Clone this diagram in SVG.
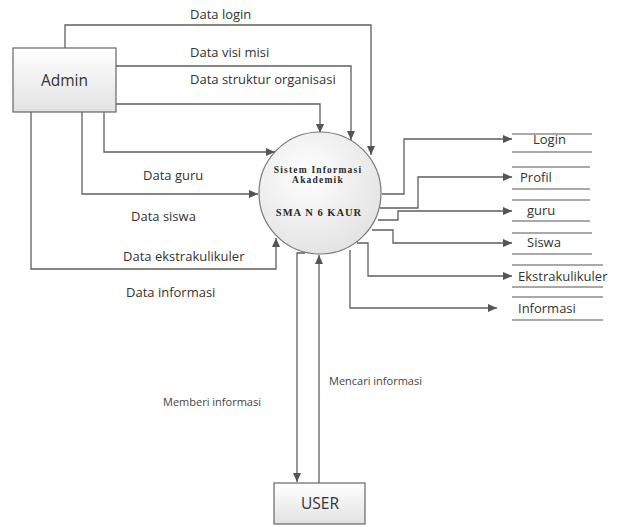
<svg xmlns="http://www.w3.org/2000/svg" width="619" height="527" viewBox="0 0 619 527">
<style>
.ln{fill:none;stroke:#5f5f5f;stroke-width:1.3}
.st{stroke:#555;stroke-width:1.2}
.lb{font-family:"Open Sans","Noto Sans",sans-serif;font-size:13px;fill:#333}
.sm{font-family:"Open Sans","Noto Sans",sans-serif;font-size:11px;fill:#444}
.ent{font-family:"Open Sans","Noto Sans",sans-serif;font-size:15.5px;fill:#333}
.pt{font-family:"Liberation Serif","DejaVu Serif",serif;font-weight:bold;fill:#2a2a2a}
</style>
<defs>
<marker id="ar" markerWidth="10" markerHeight="8" refX="9" refY="4" orient="auto" markerUnits="userSpaceOnUse">
<path d="M0,0 L9,4 L0,8 Z" fill="#555"/>
</marker>
<linearGradient id="bx" x1="0" y1="0" x2="0" y2="1">
<stop offset="0" stop-color="#ffffff"/><stop offset="1" stop-color="#e2e2e2"/>
</linearGradient>
<radialGradient id="cg" cx="0.4" cy="0.35" r="0.75">
<stop offset="0" stop-color="#ffffff"/><stop offset="1" stop-color="#e0e0e0"/>
</radialGradient>
</defs>
<rect width="619" height="527" fill="#fff"/>
<g id="connectors">
<path class="ln" marker-end="url(#ar)" d="M65,48 V25 H371 V155"/>
<path class="ln" marker-end="url(#ar)" d="M116,66 H351 V140"/>
<path class="ln" marker-end="url(#ar)" d="M116,104 H320 V133"/>
<path class="ln" marker-end="url(#ar)" d="M104,112 V152 H275"/>
<path class="ln" marker-end="url(#ar)" d="M82,112 V194 H258"/>
<path class="ln" marker-end="url(#ar)" d="M31,112 V269 H276 V238"/>
<path class="ln" marker-end="url(#ar)" d="M382,194 H404 V139 H512"/>
<path class="ln" marker-end="url(#ar)" d="M380,208 H418 V177 H512"/>
<path class="ln" marker-end="url(#ar)" d="M378,220 H398 V211 H512"/>
<path class="ln" marker-end="url(#ar)" d="M372,230 H393 V243 H512"/>
<path class="ln" marker-end="url(#ar)" d="M357,243 H368 V276 H512"/>
<path class="ln" marker-end="url(#ar)" d="M350,250 V308 H497"/>
<path class="ln" marker-end="url(#ar)" d="M305,253 H297 V482"/>
<path class="ln" marker-end="url(#ar)" d="M319,483 V255"/>
</g>
<g id="admin">
<rect x="13" y="48" width="103" height="64" fill="url(#bx)" stroke="#666" stroke-width="1.2"/>
<text class="ent" x="64.5" y="86" text-anchor="middle">Admin</text>
</g>
<g id="process">
<circle cx="320" cy="193" r="61" fill="url(#cg)" stroke="#777" stroke-width="1.2"/>
<text class="pt" x="318" y="173" text-anchor="middle" font-size="9.5" letter-spacing="1.2">Sistem Informasi</text>
<text class="pt" x="318" y="183" text-anchor="middle" font-size="9.5" letter-spacing="1.2">Akademik</text>
<text class="pt" x="319" y="216" text-anchor="middle" font-size="10.5" letter-spacing="1">SMA N 6 KAUR</text>
</g>
<g id="user">
<rect x="274" y="483" width="91" height="41" fill="url(#bx)" stroke="#666" stroke-width="1.2"/>
<text class="ent" x="320" y="509" text-anchor="middle">USER</text>
</g>
<g id="store-login">
<line class="st" x1="512" y1="134" x2="592" y2="134"/><line class="st" x1="512" y1="152" x2="592" y2="152"/>
<text class="lb" x="533" y="144">Login</text>
</g>
<g id="store-profil">
<line class="st" x1="512" y1="167" x2="590" y2="167"/><line class="st" x1="512" y1="189" x2="590" y2="189"/>
<text class="lb" x="520" y="182">Profil</text>
</g>
<g id="store-guru">
<line class="st" x1="512" y1="200" x2="590" y2="200"/><line class="st" x1="512" y1="221" x2="590" y2="221"/>
<text class="lb" x="527" y="215">guru</text>
</g>
<g id="store-siswa">
<line class="st" x1="512" y1="233" x2="592" y2="233"/><line class="st" x1="512" y1="254" x2="592" y2="254"/>
<text class="lb" x="527" y="247">Siswa</text>
</g>
<g id="store-ekstra">
<line class="st" x1="512" y1="265" x2="603" y2="265"/><line class="st" x1="512" y1="287" x2="603" y2="287"/>
<text class="lb" x="518" y="281">Ekstrakulikuler</text>
</g>
<g id="store-info">
<line class="st" x1="512" y1="297" x2="603" y2="297"/><line class="st" x1="512" y1="320" x2="603" y2="320"/>
<text class="lb" x="518" y="313">Informasi</text>
</g>
<g id="labels">
<text class="lb" x="190" y="19">Data login</text>
<text class="lb" x="190" y="57">Data visi misi</text>
<text class="lb" x="190" y="84">Data struktur organisasi</text>
<text class="lb" x="143" y="180">Data guru</text>
<text class="lb" x="131" y="221">Data siswa</text>
<text class="lb" x="123" y="261">Data ekstrakulikuler</text>
<text class="lb" x="126" y="297">Data informasi</text>
<text class="sm" x="329" y="385">Mencari informasi</text>
<text class="sm" x="163" y="406">Memberi informasi</text>
</g>
</svg>
